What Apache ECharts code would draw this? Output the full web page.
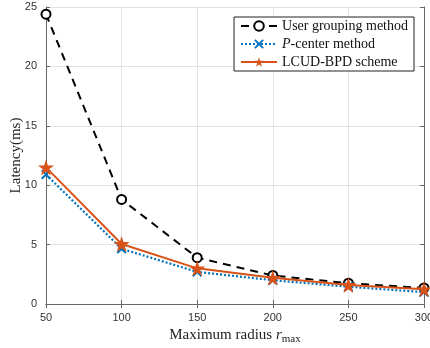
<!DOCTYPE html>
<html>
<head>
<meta charset="utf-8">
<script src="https://cdn.jsdelivr.net/npm/echarts@6/dist/echarts.min.js"></script>
<style>
  html, body { margin: 0; padding: 0; background: #fff; }
  #main { width: 430px; height: 348px; }
</style>
</head>
<body>
<div id="main"></div>
<script>
// radius values on the x axis
const radius = [50, 100, 150, 200, 250, 300];
const userGrouping = [24.4, 8.8, 3.9, 2.4, 1.75, 1.35];
const pCenter = [10.9, 4.65, 2.7, 2.0, 1.45, 1.0];
const lcudBpd = [11.5, 5.05, 3.0, 2.2, 1.6, 1.25];

const seriesNames = ['User grouping method', 'P-center method', 'LCUD-BPD scheme'];

const serif = 'Liberation Serif';
const sans = 'Liberation Sans';

function pairs(ys) {
  return radius.map((x, i) => [x, ys[i]]);
}

const starPath = 'path://M50,0L61.2,34.5L97.6,34.5L68.2,55.9L79.4,90.5L50,69.1L20.6,90.5L31.8,55.9L2.4,34.5L38.8,34.5Z';
const crossPath = 'path://M0,14L14,0L50,36L86,0L100,14L64,50L100,86L86,100L50,64L14,100L0,86L36,50Z';

let chart = echarts.init(document.getElementById('main'), null, { renderer: 'canvas' });

const axisColor = '#666';
const gridColor = '#e3e3e3';

let option = {
  animation: false,
  backgroundColor: '#fff',
  grid: { left: 46, right: 6, top: 7, bottom: 44, outerBoundsMode: 'none' },
  legend: {
    right: 16,
    top: 17,
    orient: 'vertical',
    backgroundColor: '#fff',
    borderColor: '#222',
    borderWidth: 1,
    borderRadius: 0,
    padding: [2, 6, 2, 6],
    itemGap: 4,
    itemWidth: 36,
    itemHeight: 12,
    data: seriesNames,
    textStyle: {
      fontFamily: serif,
      fontSize: 14,
      color: '#111',
      rich: {
        i: { fontFamily: serif, fontStyle: 'italic', fontSize: 14, color: '#111' }
      }
    },
    formatter: function (name) {
      if (name === 'P-center method') return '{i|P}-center method';
      return name;
    }
  },
  xAxis: [
    {
      type: 'value',
      min: 50,
      max: 300,
      interval: 50,
      name: 'Maximum radius {i|r}{s|max}',
      nameLocation: 'middle',
      nameGap: 22,
      nameMoveOverlap: false,
      nameTextStyle: {
        fontFamily: serif,
        fontSize: 15,
        color: '#222',
        rich: {
          i: { fontFamily: serif, fontStyle: 'italic', fontSize: 15, color: '#222' },
          s: { fontFamily: serif, fontSize: 11, color: '#222', padding: [8, 0, 0, 0] }
        }
      },
      axisLine: { show: true, lineStyle: { color: axisColor, width: 1 } },
      axisTick: { show: true, inside: true, length: 4, lineStyle: { color: axisColor } },
      axisLabel: { fontFamily: sans, fontSize: 11, color: '#333', margin: 8 },
      splitLine: { show: true, lineStyle: { color: gridColor, width: 1 } }
    },
    {
      type: 'value',
      position: 'top',
      min: 50,
      max: 300,
      interval: 50,
      axisLine: { show: true, lineStyle: { color: axisColor, width: 1 } },
      axisTick: { show: true, inside: true, length: 4, lineStyle: { color: axisColor } },
      axisLabel: { show: false },
      splitLine: { show: false }
    }
  ],
  yAxis: [
    {
      type: 'value',
      min: 0,
      max: 25,
      interval: 5,
      name: 'Latency(ms)',
      nameLocation: 'middle',
      nameGap: 22,
      nameMoveOverlap: false,
      nameTextStyle: { fontFamily: serif, fontSize: 15, color: '#222' },
      axisLine: { show: true, lineStyle: { color: axisColor, width: 1 } },
      axisTick: { show: true, inside: true, length: 4, lineStyle: { color: axisColor } },
      axisLabel: { fontFamily: sans, fontSize: 11, color: '#333', margin: 9 },
      splitLine: { show: true, lineStyle: { color: gridColor, width: 1 } }
    },
    {
      type: 'value',
      position: 'right',
      min: 0,
      max: 25,
      interval: 5,
      axisLine: { show: true, lineStyle: { color: axisColor, width: 1 } },
      axisTick: { show: true, inside: true, length: 4, lineStyle: { color: axisColor } },
      axisLabel: { show: false },
      splitLine: { show: false }
    }
  ],
  series: [
    {
      name: seriesNames[0],
      type: 'line',
      data: pairs(userGrouping),
      symbol: 'circle',
      symbolSize: 9,
      z: 3,
      lineStyle: { color: '#000', width: 2, type: [8, 6] },
      itemStyle: { color: '#fff', borderColor: '#000', borderWidth: 2 }
    },
    {
      name: seriesNames[1],
      type: 'line',
      data: pairs(pCenter),
      symbol: crossPath,
      symbolSize: 10,
      z: 4,
      lineStyle: { color: '#0072BD', width: 2.2, type: [2, 2] },
      itemStyle: { color: '#0072BD' }
    },
    {
      name: seriesNames[2],
      type: 'line',
      data: pairs(lcudBpd),
      symbol: starPath,
      symbolSize: 16,
      z: 5,
      lineStyle: { color: '#D95319', width: 2 },
      itemStyle: { color: '#D95319' }
    }
  ]
};

chart.setOption(option);
</script>
</body>
</html>
